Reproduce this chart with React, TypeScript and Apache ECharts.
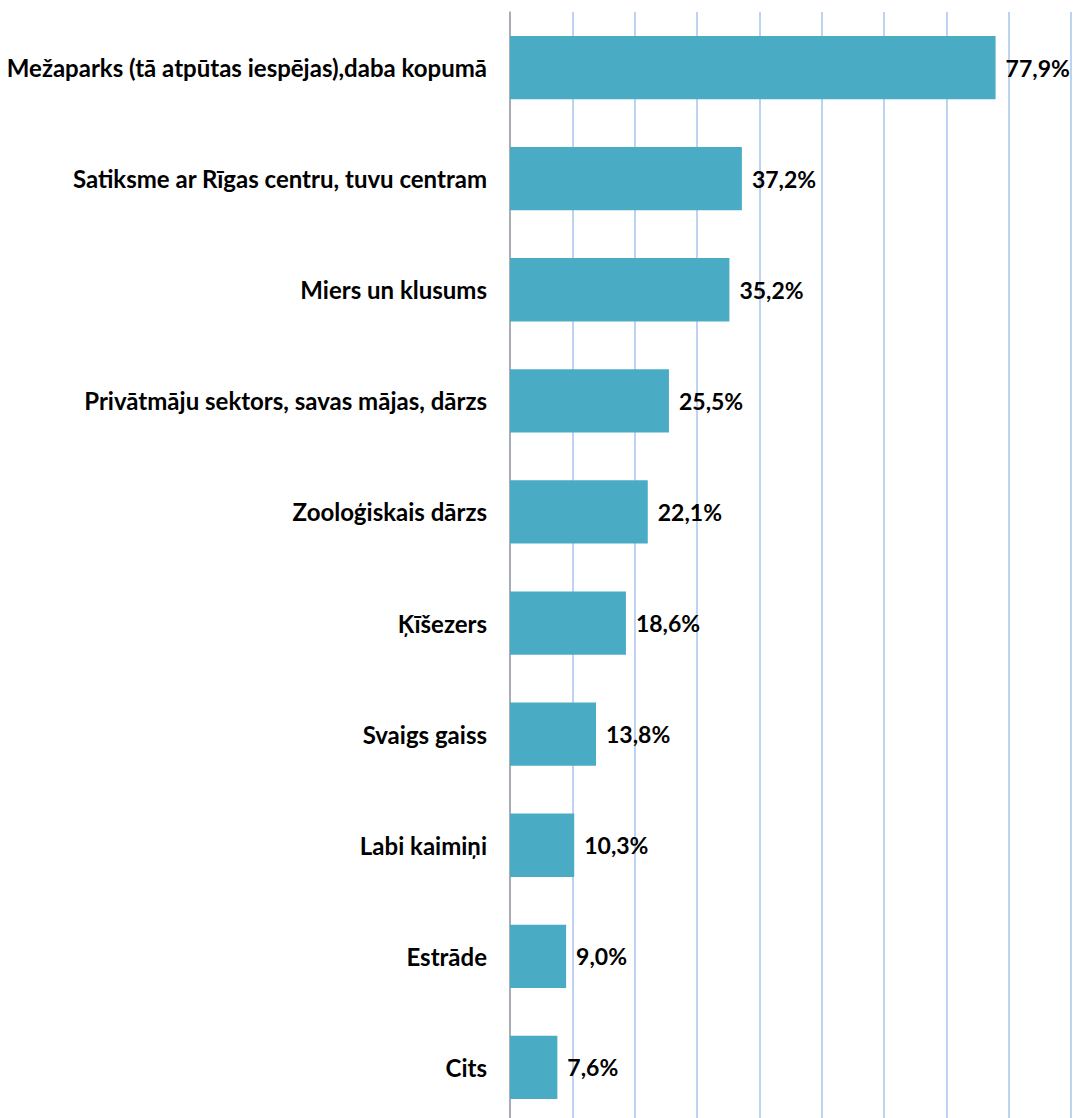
import React, { useEffect, useRef } from "react";
import * as echarts from "echarts";

const categories = [
  "Mežaparks (tā atpūtas iespējas),daba kopumā",
  "Satiksme ar Rīgas centru, tuvu centram",
  "Miers un klusums",
  "Privātmāju sektors, savas mājas, dārzs",
  "Zooloģiskais dārzs",
  "Ķīšezers",
  "Svaigs gaiss",
  "Labi kaimiņi",
  "Estrāde",
  "Cits",
];
const values = [77.9, 37.2, 35.2, 25.5, 22.1, 18.6, 13.8, 10.3, 9.0, 7.6];

const FONT = "Lato, 'Open Sans', sans-serif";

export default function App() {
  const ref = useRef<HTMLDivElement>(null);
  useEffect(() => {
    document.body.style.margin = "0";
    document.body.style.overflow = "hidden";
    const chart = echarts.init(ref.current!, null, { renderer: "svg" });
    chart.setOption({
      animation: false,
      backgroundColor: "#ffffff",
      grid: { left: 510, top: 12, width: 561, height: 1111, containLabel: false },
      xAxis: {
        type: "value",
        min: 0,
        max: 90,
        interval: 10,
        axisLabel: { show: false },
        axisLine: { show: false },
        axisTick: { show: false },
        splitLine: { show: true, lineStyle: { color: "#a9c3ec", width: 1.5 } },
      },
      yAxis: {
        type: "category",
        inverse: true,
        data: categories,
        axisLine: { show: true, lineStyle: { color: "#a0a0a0", width: 1.5 } },
        axisTick: { show: false },
        axisLabel: {
          margin: 23,
          color: "#000",
          fontSize: 24,
          fontWeight: "bold",
          fontFamily: FONT,
        },
      },
      series: [
        {
          type: "bar",
          data: values,
          barWidth: "57%",
          itemStyle: { color: "#4aabc5" },
          label: {
            show: true,
            position: "right",
            distance: 10,
            color: "#000",
            fontSize: 23,
            fontWeight: "bold",
            fontFamily: FONT,
            formatter: (p: any) => p.value.toFixed(1).replace(".", ",") + "%",
          },
        },
      ],
    });
    return () => chart.dispose();
  }, []);
  return <div ref={ref} style={{ width: 1075, height: 1130 }} />;
}
